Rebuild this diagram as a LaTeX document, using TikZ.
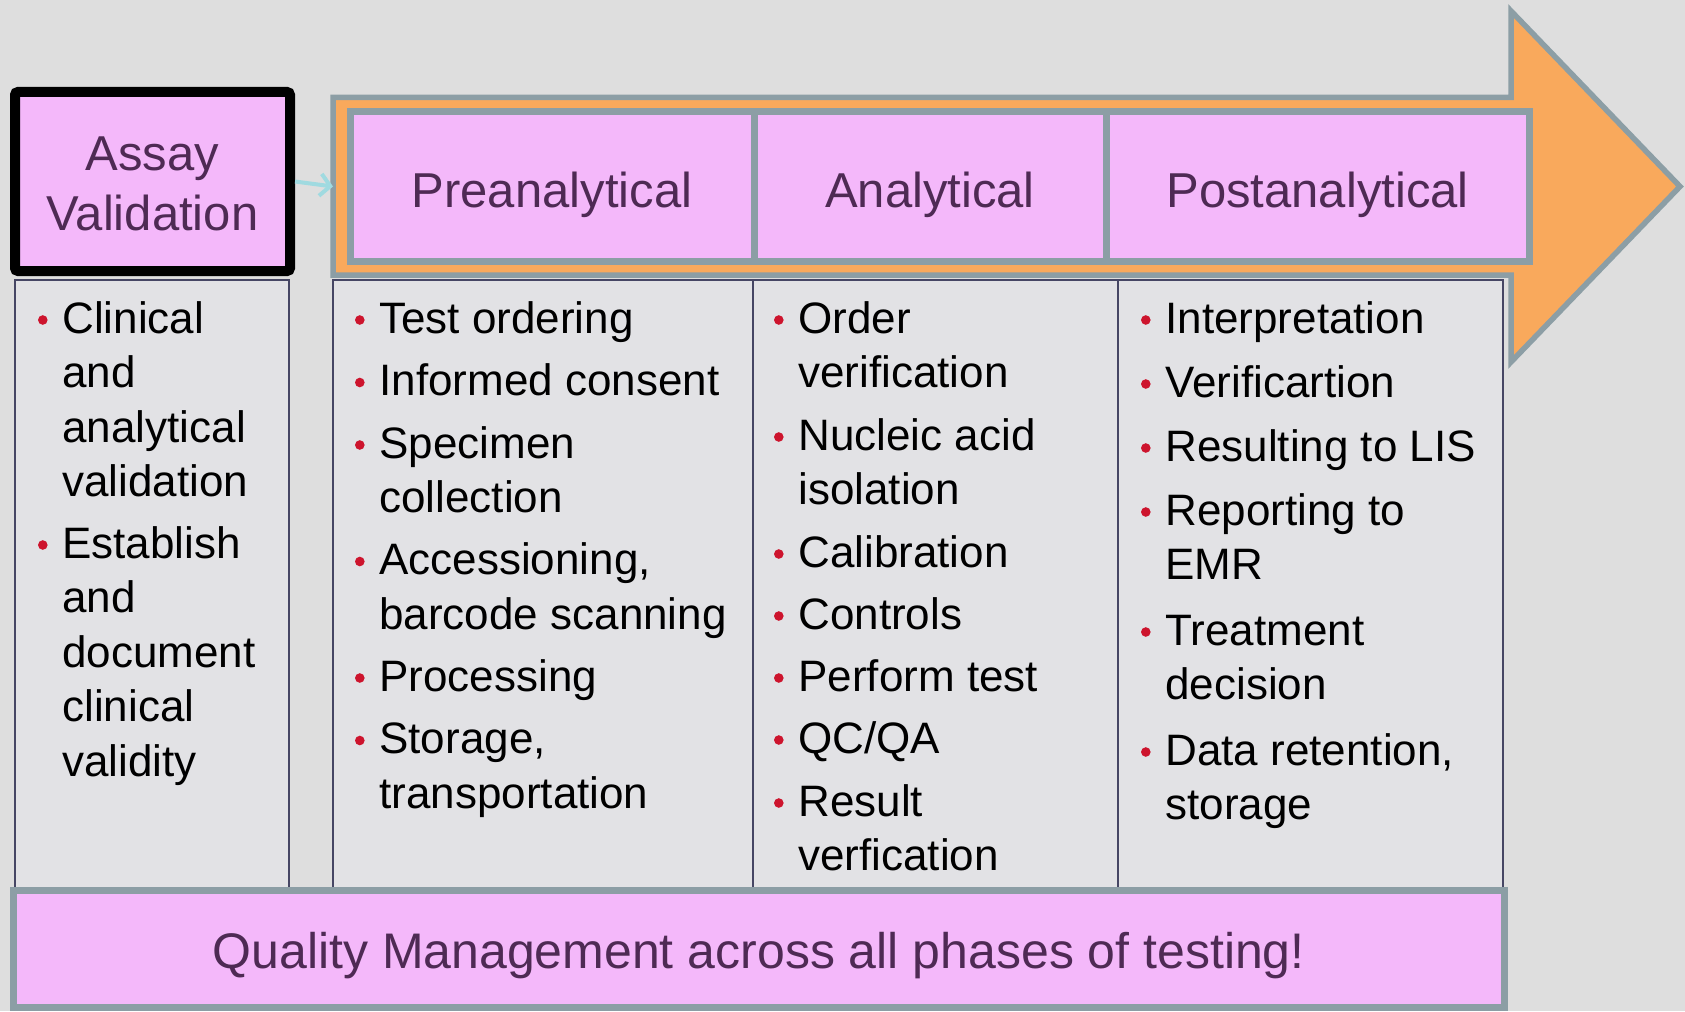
\documentclass[tikz,border=0pt]{standalone}
\usepackage{fontspec}
\setmainfont{Liberation Sans}
\usetikzlibrary{arrows.meta}

\definecolor{bgcol}{RGB}{222,222,222}
\definecolor{pinkfill}{RGB}{244,184,250}
\definecolor{headgray}{RGB}{140,158,165}
\definecolor{flowfill}{RGB}{249,169,92}
\definecolor{purpletext}{RGB}{78,42,84}
\definecolor{bulletred}{RGB}{205,20,45}
\definecolor{colline}{RGB}{70,70,100}
\definecolor{colfill}{RGB}{226,226,229}
\definecolor{cyanline}{RGB}{160,218,224}

% red bullet hanging in front of the first line of an entry
\newcommand\bul{\llap{\tikz[baseline={(0pt,-6.5pt)}]\fill[bulletred] (0pt,0pt) circle (2.4pt);\hspace{7.4pt}}}
\newcommand\entry[1]{\begin{tabular}[t]{@{}l@{}}\bul#1\end{tabular}}

\begin{document}
\begin{tikzpicture}[x=0.5pt,y=-0.5pt,
  flowarrow/.style={fill=flowfill,draw=headgray,line width=2.75pt},
  phasebox/.style={draw=headgray,line width=3.5pt,fill=pinkfill,
    minimum height=75pt,inner sep=0pt,text=purpletext,
    font=\fontsize{24.5}{30}\selectfont,text height=21pt,text depth=0pt},
  assaybox/.style={draw=black,line width=5pt,rounded corners=1.5pt,fill=pinkfill,
    minimum width=137.5pt,minimum height=89.5pt,inner sep=0pt,text=purpletext,
    font=\fontsize{24.5}{30}\selectfont,text height=18pt,text depth=29.5pt},
  colbox/.style={draw=colline,line width=1pt,fill=colfill,
    minimum height=304.5pt,inner sep=0pt},
  qualitybox/.style={draw=headgray,line width=3.5pt,fill=pinkfill,
    minimum width=745.25pt,minimum height=58.5pt,inner sep=0pt,text=purpletext,
    font=\fontsize{25}{30}\selectfont,text height=19pt,text depth=0pt},
  itemtext/.style={anchor=base west,inner sep=0pt,text=black,
    font=\fontsize{22}{27.25}\selectfont},
  conn/.style={draw=cyanline,line width=2pt,-{Straight Barb[length=5pt,width=11pt]}}
]
\fill[bgcol] (0,0) rectangle (1685,1011);
\useasboundingbox (0,0) rectangle (1685,1011);

% big process arrow
\path[flowarrow] (333,97.5) -- (1511,97.5) -- (1511,11) -- (1680,186.5)
  -- (1511,362) -- (1511,275) -- (333,275) -- cycle;
\coordinate (flowtail) at (333,186.5);

% phase headers
\node[phasebox,minimum width=202pt] (pre) at (552,186.5) {Preanalytical};
\node[phasebox,minimum width=176pt] (ana) at (930,186.5) {Analytical};
\node[phasebox,minimum width=211.5pt] (post) at (1317.5,186.5) {Postanalytical};

% assay validation
\node[assaybox] (assay) at (152.5,181.5)
  {\begin{tabular}[t]{@{}c@{}}Assay\\Validation\end{tabular}};
\draw[conn] (assay.east) -- (flowtail);

% content columns
\node[colbox,minimum width=137pt] (col1) at (152,584.5) {};
\node[colbox,minimum width=210pt] (col2) at (543,584.5) {};
\node[colbox,minimum width=182.5pt] (col3) at (935.5,584.5) {};
\node[colbox,minimum width=192.5pt] (col4) at (1310.5,584.5) {};

% column 1
\node[itemtext] (c1a) at (62,333) {\entry{Clinical\\and\\analytical\\validation}};
\node[itemtext] (c1b) at (62,558) {\entry{Establish\\and\\document\\clinical\\validity}};

% column 2
\node[itemtext] (c2a) at (379,333) {\entry{Test ordering}};
\node[itemtext] (c2b) at (379,395.5) {\entry{Informed consent}};
\node[itemtext] (c2c) at (379,458) {\entry{Specimen\\collection}};
\node[itemtext] (c2d) at (379,574.5) {\entry{Accessioning,\\barcode scanning}};
\node[itemtext] (c2e) at (379,691) {\entry{Processing}};
\node[itemtext] (c2f) at (379,753.5) {\entry{Storage,\\transportation}};

% column 3
\node[itemtext] (c3a) at (798,333) {\entry{Order\\verification}};
\node[itemtext] (c3b) at (798,450) {\entry{Nucleic acid\\isolation}};
\node[itemtext] (c3c) at (798,567) {\entry{Calibration}};
\node[itemtext] (c3d) at (798,629) {\entry{Controls}};
\node[itemtext] (c3e) at (798,691) {\entry{Perform test}};
\node[itemtext] (c3f) at (798,753) {\entry{QC/QA}};
\node[itemtext] (c3g) at (798,816) {\entry{Result\\verfication}};

% column 4
\node[itemtext] (c4a) at (1165,333) {\entry{Interpretation}};
\node[itemtext] (c4b) at (1165,397) {\entry{Verificartion}};
\node[itemtext] (c4c) at (1165,461) {\entry{Resulting to LIS}};
\node[itemtext] (c4d) at (1165,525) {\entry{Reporting to\\EMR}};
\node[itemtext] (c4e) at (1165,645) {\entry{Treatment\\decision}};
\node[itemtext] (c4f) at (1165,765) {\entry{Data retention,\\storage}};

% quality management band
\node[qualitybox] (quality) at (758.75,949) {Quality Management across all phases of testing!};
\end{tikzpicture}
\end{document}
